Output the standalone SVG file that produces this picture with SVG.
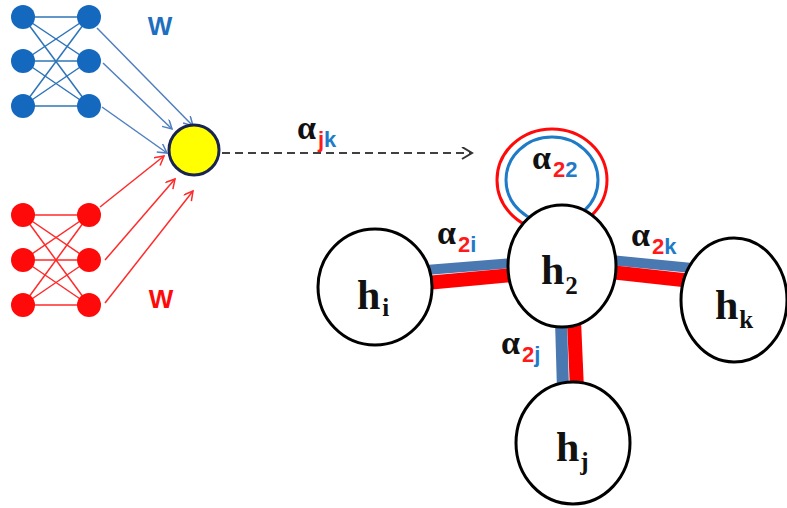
<svg xmlns="http://www.w3.org/2000/svg" width="787" height="508" viewBox="0 0 787 508">
<defs>
<style>
.bn{fill:#1469BE}
.rn{fill:#FF0A0A}
.be{stroke:#2E74B8;stroke-width:1.5;fill:none}
.re{stroke:#FF2A2A;stroke-width:1.5;fill:none}
.ba{stroke:#4F7FC0;stroke-width:1.5;fill:none;marker-end:url(#ab)}
.ra{stroke:#FF2A2A;stroke-width:1.5;fill:none;marker-end:url(#ar)}
.node{fill:#fff;stroke:#000;stroke-width:3}
.h{font-family:"Liberation Serif",serif;font-weight:bold;font-size:42px;fill:#111}
.hs{font-size:25px}
.al{font-family:"Liberation Serif",serif;font-weight:bold;font-size:34px;fill:#111}
.sub{font-family:"Liberation Sans",Arial,sans-serif;font-weight:bold;font-size:22px}
.r{fill:#FF1A1A}
.b{fill:#1F7BC8}
.bstripe{stroke:#4A78B0;fill:none}
.rstripe{stroke:#FF0000;fill:none}
</style>
<marker id="ab" markerWidth="12" markerHeight="12" refX="10" refY="5" orient="auto" markerUnits="userSpaceOnUse">
<path d="M1,0 L10,5 L1,10" fill="none" stroke="#4F7FC0" stroke-width="1.5"/>
</marker>
<marker id="ar" markerWidth="12" markerHeight="12" refX="10" refY="5" orient="auto" markerUnits="userSpaceOnUse">
<path d="M1,0 L10,5 L1,10" fill="none" stroke="#FF2A2A" stroke-width="1.5"/>
</marker>
<marker id="ad" markerWidth="14" markerHeight="14" refX="11" refY="6" orient="auto" markerUnits="userSpaceOnUse">
<path d="M1,0 L11,6 L1,12" fill="none" stroke="#333" stroke-width="2"/>
</marker>
</defs>
<rect width="787" height="508" fill="#fff"/>

<g id="connectors">
<g>
<line class="be" x1="23" y1="17" x2="89" y2="17"/>
<line class="be" x1="23" y1="17" x2="89" y2="61"/>
<line class="be" x1="23" y1="17" x2="89" y2="106"/>
<line class="be" x1="23" y1="61" x2="89" y2="17"/>
<line class="be" x1="23" y1="61" x2="89" y2="61"/>
<line class="be" x1="23" y1="61" x2="89" y2="106"/>
<line class="be" x1="23" y1="106" x2="89" y2="17"/>
<line class="be" x1="23" y1="106" x2="89" y2="61"/>
<line class="be" x1="23" y1="106" x2="89" y2="106"/>
</g>
<g>
<line class="re" x1="23" y1="215" x2="89" y2="215"/>
<line class="re" x1="23" y1="215" x2="89" y2="260"/>
<line class="re" x1="23" y1="215" x2="89" y2="305"/>
<line class="re" x1="23" y1="260" x2="89" y2="215"/>
<line class="re" x1="23" y1="260" x2="89" y2="260"/>
<line class="re" x1="23" y1="260" x2="89" y2="305"/>
<line class="re" x1="23" y1="305" x2="89" y2="215"/>
<line class="re" x1="23" y1="305" x2="89" y2="260"/>
<line class="re" x1="23" y1="305" x2="89" y2="305"/>
</g>
<line class="ba" x1="97" y1="28" x2="193" y2="126"/>
<line class="ba" x1="103" y1="63" x2="172" y2="129"/>
<line class="ba" x1="102" y1="107" x2="167" y2="153"/>
<line class="ra" x1="100" y1="207" x2="164" y2="156"/>
<line class="ra" x1="105" y1="260" x2="175" y2="179"/>
<line class="ra" x1="105" y1="303" x2="193" y2="191"/>
<line x1="222" y1="153" x2="472" y2="153" stroke="#404040" stroke-width="2" stroke-dasharray="8,5" marker-end="url(#ad)"/>
<ellipse cx="552" cy="180" rx="55" ry="51" fill="none" stroke="#FF0A0A" stroke-width="3"/>
<ellipse cx="552" cy="180" rx="46" ry="43" fill="none" stroke="#1F7BC8" stroke-width="3"/>
<line class="bstripe" x1="426" y1="270" x2="512" y2="263" stroke-width="10"/>
<line class="rstripe" x1="426" y1="283" x2="512" y2="275" stroke-width="14"/>
<line class="bstripe" x1="610" y1="260" x2="692" y2="268" stroke-width="10"/>
<line class="rstripe" x1="610" y1="272" x2="692" y2="281" stroke-width="14"/>
<line class="bstripe" x1="561" y1="320" x2="563" y2="390" stroke-width="12"/>
<line class="rstripe" x1="574" y1="320" x2="577" y2="390" stroke-width="14"/>
</g>

<g id="blue-net">
<circle class="bn" cx="23" cy="17" r="12"/>
<circle class="bn" cx="23" cy="61" r="12"/>
<circle class="bn" cx="23" cy="106" r="12"/>
<circle class="bn" cx="89" cy="17" r="12"/>
<circle class="bn" cx="89" cy="61" r="12"/>
<circle class="bn" cx="89" cy="106" r="12"/>
<text x="160" y="35" text-anchor="middle" font-family="Liberation Sans, Arial, sans-serif" font-weight="bold" font-size="26" fill="#1F6FC0">W</text>
</g>
<g id="red-net">
<circle class="rn" cx="23" cy="215" r="12"/>
<circle class="rn" cx="23" cy="260" r="12"/>
<circle class="rn" cx="23" cy="305" r="12"/>
<circle class="rn" cx="89" cy="215" r="12"/>
<circle class="rn" cx="89" cy="260" r="12"/>
<circle class="rn" cx="89" cy="305" r="12"/>
<text x="161" y="308" text-anchor="middle" font-family="Liberation Sans, Arial, sans-serif" font-weight="bold" font-size="26" fill="#FF0A0A">W</text>
</g>
<g id="aggregator">
<circle cx="194" cy="150" r="25" fill="#FFFF00" stroke="#1A2450" stroke-width="3"/>
</g>
<g id="label-ajk">
<text class="al" x="297" y="139">α<tspan class="sub r" dy="8" dx="2">j</tspan><tspan class="sub b">k</tspan></text>
</g>

<g id="h2">
<ellipse class="node" cx="562" cy="266" rx="54" ry="61"/>
<text class="h" x="541" y="284">h<tspan class="hs" dy="10" dx="1">2</tspan></text>
</g>
<g id="hi">
<ellipse class="node" cx="375" cy="287" rx="57" ry="58"/>
<text class="h" x="357" y="309">h<tspan class="hs" dy="7" dx="2">i</tspan></text>
</g>
<g id="hk">
<ellipse class="node" cx="734" cy="300" rx="53" ry="62"/>
<text class="h" x="715" y="319">h<tspan class="hs" dy="9" dx="1">k</tspan></text>
</g>
<g id="hj">
<ellipse class="node" cx="573" cy="443" rx="57" ry="61"/>
<text class="h" x="556" y="461">h<tspan class="hs" dy="9" dx="1">j</tspan></text>
</g>

<g id="edge-labels">
<text class="al" x="437" y="244">α<tspan class="sub r" dy="8" dx="2">2</tspan><tspan class="sub b">i</tspan></text>
<text class="al" x="631" y="246">α<tspan class="sub r" dy="8" dx="2">2</tspan><tspan class="sub b">k</tspan></text>
<text class="al" x="501" y="354">α<tspan class="sub r" dy="8" dx="2">2</tspan><tspan class="sub b">j</tspan></text>
<text class="al" x="532" y="169">α<tspan class="sub r" dy="8" dx="2">2</tspan><tspan class="sub b">2</tspan></text>
</g>
</svg>
